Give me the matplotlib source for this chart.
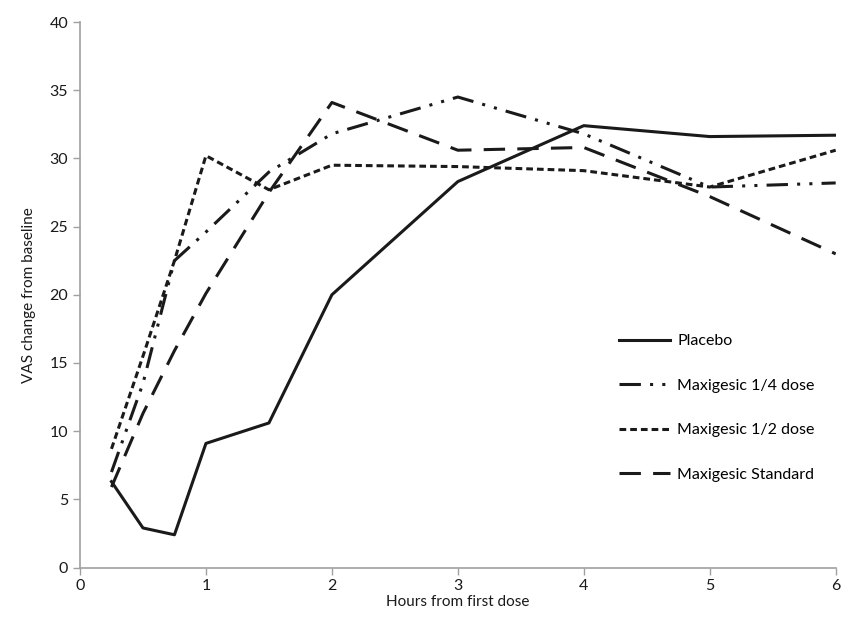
import matplotlib
matplotlib.use("Agg")
import matplotlib.pyplot as plt

hours = [0.25, 0.5, 0.75, 1, 1.5, 2, 3, 4, 5, 6]
placebo = [6.3, 2.9, 2.4, 9.1, 10.6, 20.0, 28.3, 32.4, 31.6, 31.7]
quarter = [7.0, 13.5, 22.5, 24.6, 29.0, 31.8, 34.5, 31.8, 27.9, 28.2]
half = [8.7, 15.5, 22.5, 30.2, 27.7, 29.5, 29.4, 29.1, 27.9, 30.6]
standard = [5.9, 11.3, 15.9, 20.1, 27.5, 34.1, 30.6, 30.8, 27.2, 23.0]
labels = ["Placebo", "Maxigesic 1/4 dose", "Maxigesic 1/2 dose", "Maxigesic Standard"]

plt.rcParams['font.family'] = ['Lato', 'DejaVu Sans']

fig = plt.figure(figsize=(8.51, 6.22), dpi=100)
ax = fig.add_axes([0.094, 0.0876, 0.888, 0.877])

lw = 2.2
ax.plot(hours, placebo, color='#1a1a1a', lw=lw, ls='-', label=labels[0])
ax.plot(hours, quarter, color='#1a1a1a', lw=lw, ls=(0, (7, 3, 1, 3, 1, 3)), label=labels[1])
ax.plot(hours, half, color='#1a1a1a', lw=lw, ls=(0, (2.2, 1.3)), label=labels[2])
ax.plot(hours, standard, color='#1a1a1a', lw=lw, ls=(0, (7, 4)), label=labels[3])

ax.set_xlim(0, 6)
ax.set_ylim(0, 40)
ax.set_xticks(range(0, 7))
ax.set_yticks(range(0, 41, 5))
for s in ['top', 'right']:
    ax.spines[s].set_visible(False)
for s in ['left', 'bottom']:
    ax.spines[s].set_color('#a0a0a0')
    ax.spines[s].set_linewidth(1.2)
ax.tick_params(axis='both', colors='#a0a0a0', length=5, width=1.0, labelsize=11.5, labelcolor='#1a1a1a')
ax.set_xlabel("Hours from first dose", fontsize=11, color='#1a1a1a', labelpad=1)
ax.set_ylabel("VAS change from baseline", fontsize=11, color='#1a1a1a', labelpad=10)

ax.legend(loc='upper left', bbox_to_anchor=(0.713, 0.428), frameon=False, fontsize=11.5,
          borderpad=0, borderaxespad=0,
          handlelength=3.2, handletextpad=0.45, labelspacing=1.9)

fig.savefig("out.png", dpi=100)
